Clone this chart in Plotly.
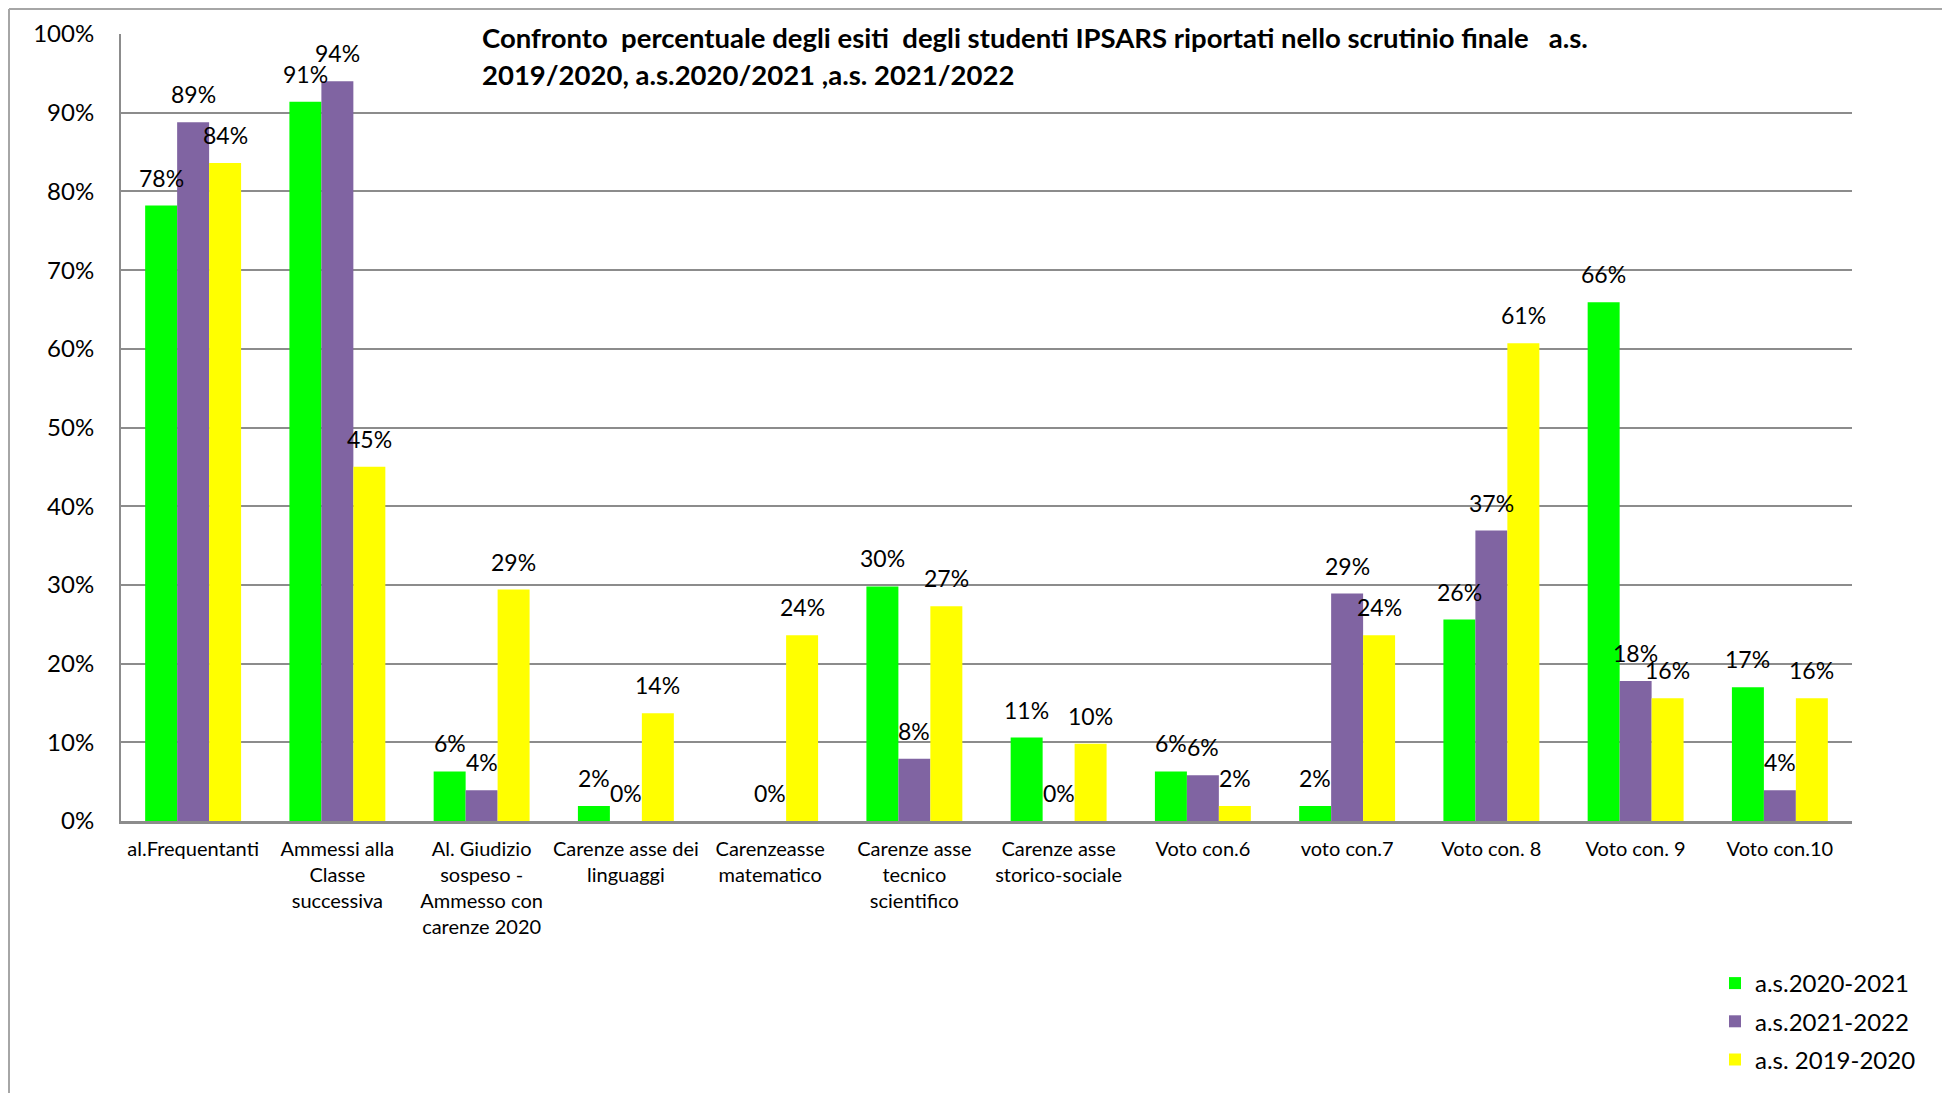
import plotly.graph_objects as go

categories = [
    "al.Frequentanti",
    "Ammessi alla<br>Classe<br>successiva",
    "Al. Giudizio<br>sospeso -<br>Ammesso con<br>carenze 2020",
    "Carenze asse dei<br>linguaggi",
    "Carenzeasse<br>matematico",
    "Carenze asse<br>tecnico<br>scientifico",
    "Carenze asse<br>storico-sociale",
    "Voto con.6",
    "voto con.7",
    "Voto con. 8",
    "Voto con. 9",
    "Voto con.10",
]

as_2020_2021 = [78.2, 91.4, 6.3, 1.9, None, 29.8, 10.6, 6.3, 1.9, 25.6, 65.9, 17.0]
as_2021_2022 = [88.8, 94.0, 3.9, 0.0, 0.0, 7.9, 0.0, 5.8, 28.9, 36.9, 17.8, 3.9]
as_2019_2020 = [83.6, 45.0, 29.4, 13.7, 23.6, 27.3, 9.8, 1.9, 23.6, 60.7, 15.6, 15.6]

series_names = ["a.s.2020-2021", "a.s.2021-2022", "a.s. 2019-2020"]
series_values = [as_2020_2021, as_2021_2022, as_2019_2020]
series_colors = ["#00FF00", "#8064A2", "#FFFF00"]

y_ticks = [0, 10, 20, 30, 40, 50, 60, 70, 80, 90, 100]

title_line1 = "Confronto  percentuale degli esiti  degli studenti IPSARS riportati nello scrutinio finale   a.s."
title_line2 = "2019/2020, a.s.2020/2021 ,a.s. 2021/2022"

FONT = "Lato, 'Open Sans', sans-serif"
GRID = "#8c8c8c"

# page is rendered with an 8px body margin: work in page pixels, convert
OFF = 8
W, H = 1950 - OFF, 1101 - 2 * OFF
PLOT_L, PLOT_R, PLOT_T, PLOT_B = 121, 1852, 34, 821  # page pixels
L = PLOT_L - OFF
R = W - (PLOT_R - OFF)
T = PLOT_T - OFF
B = H - (PLOT_B - OFF)
plot_w = PLOT_R - PLOT_L
plot_h = PLOT_B - PLOT_T

bargap = 0.335
bar_w = (1 - bargap) / 3


def px_to_paper_x(px):
    return (px - PLOT_L) / plot_w


def px_to_paper_y(py):
    return (PLOT_B - py) / plot_h


fig = go.Figure()
for name, vals, col in zip(series_names, series_values, series_colors):
    fig.add_trace(go.Bar(
        x=categories, y=vals, name=name, marker_color=col,
        marker_line_width=0, legendgroup=name,
    ))

annotations = []
for s, vals in enumerate(series_values):
    off = (s - 1) * bar_w
    for i, v in enumerate(vals):
        if v is None:
            continue
        annotations.append(dict(
            x=i + off, y=v, xref="x", yref="y", text=f"{v:.0f}%",
            showarrow=False, yanchor="middle", xanchor="center", yshift=28,
            font=dict(family=FONT, size=23, color="#000000"),
        ))

annotations.append(dict(
    x=px_to_paper_x(477), y=px_to_paper_y(37), xref="paper", yref="paper",
    text=f"<b>{title_line1}</b>", showarrow=False, xanchor="left", yanchor="middle",
    font=dict(family=FONT, size=27.5, color="#000000"), bgcolor="#FFFFFF", borderpad=4,
))
annotations.append(dict(
    x=px_to_paper_x(477), y=px_to_paper_y(74), xref="paper", yref="paper",
    text=f"<b>{title_line2}</b>", showarrow=False, xanchor="left", yanchor="middle",
    font=dict(family=FONT, size=27.5, color="#000000"), borderpad=4,
))

shapes = [
    dict(type="line", xref="paper", yref="paper",
         x0=px_to_paper_x(9), x1=px_to_paper_x(1960), y0=px_to_paper_y(9), y1=px_to_paper_y(9),
         line=dict(color="#a6a6a6", width=2)),
    dict(type="line", xref="paper", yref="paper",
         x0=px_to_paper_x(9), x1=px_to_paper_x(9), y0=px_to_paper_y(9), y1=px_to_paper_y(1110),
         line=dict(color="#a6a6a6", width=2)),
]

fig.update_layout(
    width=W, height=H,
    margin=dict(l=L, r=R, t=T, b=B, autoexpand=False),
    paper_bgcolor="#FFFFFF", plot_bgcolor="#FFFFFF",
    barmode="group", bargap=bargap, bargroupgap=0,
    font=dict(family=FONT, color="#000000"),
    showlegend=True,
    legend=dict(
        x=px_to_paper_x(1715), y=px_to_paper_y(961), xanchor="left", yanchor="top",
        font=dict(family=FONT, size=24, color="#000000"),
        tracegroupgap=4, bgcolor="rgba(0,0,0,0)",
    ),
    annotations=annotations,
    shapes=shapes,
)
fig.update_xaxes(
    type="category", showline=True, linecolor=GRID, linewidth=3,
    ticks="", showgrid=False, tickfont=dict(family=FONT, size=20, color="#000000"),
    ticklabelstandoff=8,
)
fig.update_yaxes(
    range=[0, 100], tickvals=y_ticks, ticktext=[f"{t}%" for t in y_ticks],
    showgrid=True, gridcolor=GRID, gridwidth=2, zeroline=False,
    showline=True, linecolor=GRID, linewidth=2, ticks="",
    tickfont=dict(family=FONT, size=24, color="#000000"), ticklabelstandoff=20,
)

fig.write_html("out.html")
